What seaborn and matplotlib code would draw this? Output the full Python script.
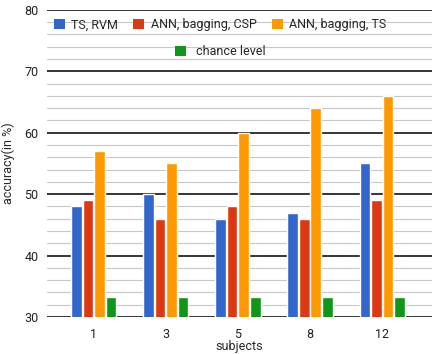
import pandas as pd
import matplotlib
matplotlib.use("Agg")
import matplotlib.pyplot as plt
import seaborn as sns
from matplotlib.patches import Patch

# chart values
subjects = ["1", "3", "5", "8", "12"]
methods = ["TS, RVM", "ANN, bagging, CSP", "ANN, bagging, TS", "chance level"]
ts_rvm = [48, 50, 46, 47, 55]
ann_csp = [49, 46, 48, 46, 49]
ann_ts = [57, 55, 60, 64, 66]
chance = [33.3, 33.3, 33.3, 33.3, 33.3]
colors = ["#3366CC", "#DC3912", "#FF9900", "#109618"]

rows = []
for name, vals in zip(methods, [ts_rvm, ann_csp, ann_ts, chance]):
    for s, v in zip(subjects, vals):
        rows.append({"subject": s, "method": name, "accuracy": v})
df = pd.DataFrame(rows)

sns.set_style("white")
plt.rcParams['font.family'] = ['Roboto', 'DejaVu Sans']

fig = plt.figure(figsize=(4.38, 3.54), dpi=100)
ax = fig.add_axes([0.107, 0.1045, 0.879, 0.8675])

sns.barplot(data=df, x="subject", y="accuracy", hue="method", order=subjects,
            hue_order=methods, palette=colors, width=0.64, gap=0.08,
            saturation=1, ax=ax, legend=False)

ax.set_xlim(-0.65, 4.69)
ax.set_ylim(30, 80)
ax.set_yticks([30, 40, 50, 60, 70, 80])
ax.set_yticks([y for y in range(32, 80, 2) if y % 10], minor=True)
ax.grid(axis="y", which="major", color="black", linewidth=1.1)
ax.grid(axis="y", which="minor", color="#c8c8c8", linewidth=0.8)
ax.set_axisbelow(True)
for sp in ax.spines.values():
    sp.set_visible(False)
ax.tick_params(axis="both", which="both", length=0, labelsize=9, colors="#222222")
ax.tick_params(axis="y", pad=6)
ax.tick_params(axis="x", pad=8)
ax.set_xlabel("subjects", fontsize=9, labelpad=-1)
ax.set_ylabel("accuracy(in %)", fontsize=9, labelpad=7)

handles = [Patch(facecolor=c, edgecolor="none") for c in colors]
leg1 = ax.legend(handles[:3], methods[:3], ncol=3, loc="center",
                 bbox_to_anchor=(0.45, 0.951), frameon=False, fontsize=9,
                 handlelength=0.9, handleheight=0.9, handletextpad=0.5,
                 columnspacing=1.2)
ax.add_artist(leg1)
ax.legend(handles[3:], methods[3:], loc="center",
          bbox_to_anchor=(0.45, 0.863), frameon=False, fontsize=9,
          handlelength=0.9, handleheight=0.9, handletextpad=0.8)

fig.savefig("out.png", dpi=100)
